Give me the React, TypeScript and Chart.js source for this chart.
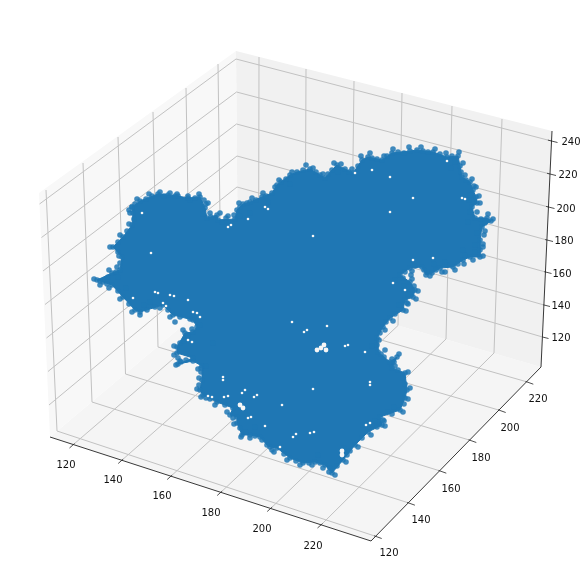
import React, { useEffect, useRef } from "react";
import { Chart, registerables } from "chart.js";
Chart.register(...registerables);

type P = number[];
const xTicks = ["120", "140", "160", "180", "200", "220"];
const yTicks = ["120", "140", "160", "180", "200", "220"];
const zTicks = ["240", "220", "200", "180", "160", "140", "120"];

// Box frame as read on the view plane
const leftPane: P[] = [[39, 193], [236, 51], [238, 279], [50, 437]];
const backPane: P[] = [[236, 51], [552, 131], [541, 367], [238, 279]];
const floorPane: P[] = [[50, 437], [238, 279], [541, 367], [371, 541]];
const axisLine: P[] = [[50, 437], [371, 541], [541, 367], [552, 131]];

const xGridAxis: P[] = [[74, 444], [122.7, 459.5], [171.7, 475.5], [221.7, 491.5], [271.7, 507.5], [322, 524]];
const xGridBack: P[] = [[258.5, 285.5], [305, 299], [351, 312], [398, 325.5], [446, 339], [494, 353]];
const xGridTop: P[] = [[259, 57], [306, 69], [354, 81], [402, 93], [452, 106], [502, 119]];
const yGridAxis: P[] = [[374.7, 536], [407.9, 502.7], [439.3, 470.7], [469.3, 440], [498.7, 410], [526.3, 381.7]];
const yGridBack: P[] = [[57, 431], [92, 402], [125.5, 374], [158, 347], [190, 320], [221, 294]];
const yGridTop: P[] = [[46, 190], [83, 163], [118, 137], [153, 112], [186, 88], [218, 64]];
const zGridLeft: P[] = [[39.5, 204], [41.5, 237.5], [43, 271], [45, 304.5], [46.5, 338], [48, 371.5], [49, 405]];
const zGridBack: P[] = [[236, 59], [236.5, 92], [236.5, 124], [237, 156], [237, 187], [237.5, 218], [238, 248]];
const zGridAxis: P[] = [[551.5, 141], [550, 174], [548.5, 207], [547, 240], [545.5, 272], [544, 305], [542.5, 337]];

const xLabelAt: P[] = [[66, 465], [113, 480], [162, 496], [211, 513], [262, 529], [313, 546]];
const yLabelAt: P[] = [[389, 553], [421, 520], [451, 489], [481, 458], [510, 428], [538, 399]];
const zLabelAt: P[] = [[571, 142], [568, 175], [566, 209], [564, 241], [562, 274], [561, 306], [561, 338]];

// Silhouette of the dense cloud
const outline: P[] = [
  [132, 207], [140, 201], [158, 194], [168, 195], [178, 196], [188, 198], [200, 197], [205, 208], [207, 218], [217, 215],
  [218, 220], [235, 219], [237, 210], [243, 204], [250, 202], [262, 197], [272, 193], [277, 185], [290, 175], [297, 172],
  [310, 169], [325, 178], [332, 170], [337, 165], [353, 173], [362, 160], [368, 157], [382, 160], [392, 153], [410, 151],
  [417, 150], [433, 152], [447, 157], [458, 156], [460, 166], [462, 177], [470, 182], [473, 190], [476, 197], [477, 203],
  [472, 207], [475, 218], [487, 218], [491, 221], [482, 227], [480, 240], [480, 250], [480, 257], [470, 257], [463, 260],
  [453, 267], [440, 268], [432, 273], [426, 275], [422, 267], [410, 268], [400, 275], [410, 282], [415, 290], [413, 297],
  [405, 300], [403, 310], [390, 318], [383, 327], [377, 338], [378, 352], [390, 362], [397, 357], [392, 368], [405, 373],
  [407, 390], [405, 398], [400, 410], [380, 417], [382, 425], [368, 432], [355, 445], [343, 460], [332, 473], [325, 465],
  [315, 462], [303, 463], [290, 458], [277, 448], [270, 447], [267, 445], [260, 437], [250, 435], [242, 435], [237, 423],
  [237, 417], [230, 415], [233, 408], [217, 402], [203, 395], [200, 390], [202, 380], [202, 366], [193, 361], [178, 364],
  [193, 358], [177, 353], [177, 347], [185, 333], [193, 332], [197, 327], [193, 320], [173, 315], [163, 305], [140, 312],
  [135, 310], [123, 297], [112, 285], [103, 282], [97, 280], [112, 273], [120, 270], [122, 257], [113, 247], [123, 237],
  [132, 225], [133, 213],
];

// Individual markers along the rim of the cloud
const rimPoints: P[] = [
  [135, 204], [146, 199], [152, 196], [164, 196], [175, 196], [190, 200], [195, 198], [204, 200], [203, 214], [211, 217],
  [222, 222], [228, 222], [240, 207], [247, 203], [240, 216], [256, 200], [266, 196], [268, 202], [281, 182], [286, 179],
  [303, 170], [316, 172], [320, 175], [328, 174], [345, 169], [349, 172], [358, 166], [372, 158], [377, 159], [387, 156],
  [398, 152], [404, 153], [423, 151], [428, 152], [440, 154], [452, 156], [455, 162], [461, 172], [466, 180], [474, 186],
  [469, 200], [470, 212], [481, 219], [485, 223], [477, 233], [484, 235], [475, 245], [483, 247], [475, 252], [458, 264],
  [447, 265], [445, 272], [436, 270], [415, 266], [405, 272], [403, 278], [414, 286], [408, 294], [399, 305], [395, 314],
  [386, 322], [380, 333], [377, 345], [384, 357], [394, 362], [398, 370], [403, 378], [405, 384], [404, 404], [394, 407],
  [388, 412], [375, 421], [377, 427], [362, 438], [350, 451], [347, 455], [337, 466], [330, 468], [320, 463], [309, 463],
  [296, 461], [284, 454], [272, 450], [255, 436], [246, 432], [240, 428], [225, 405], [210, 399], [206, 398], [199, 385],
  [201, 372], [201, 368], [186, 360], [181, 362], [178, 358], [180, 343], [188, 335], [180, 317], [168, 310], [155, 307],
  [147, 310], [129, 304], [118, 291], [107, 284], [100, 281], [108, 277], [116, 272], [120, 263], [118, 252], [118, 242],
  [127, 231], [134, 219], [118, 277], [126, 288], [150, 302], [144, 305], [175, 322], [206, 366], [213, 343], [184, 341],
  [445, 262], [465, 255], [468, 222], [395, 280], [411, 275], [408, 304], [372, 346], [385, 350], [384, 421], [392, 414],
  [363, 425], [344, 448], [318, 455], [255, 427], [226, 396], [208, 203], [228, 216], [250, 213], [290, 184], [338, 172],
  [451, 168], [470, 195], [463, 250], [434, 264],
  // outer bumps
  [129, 210], [137, 199], [149, 194], [160, 192], [170, 193], [177, 194], [188, 196], [199, 194], [206, 204], [210, 213], [220, 213],
  [226, 218], [234, 215], [239, 203], [252, 198], [263, 193], [275, 187], [279, 180], [292, 172], [306, 165], [313, 168],
  [323, 174], [334, 163], [341, 164], [352, 169], [361, 156], [370, 153], [384, 156], [393, 149], [409, 147], [421, 147],
  [435, 149], [446, 153], [459, 152], [463, 163], [465, 175], [472, 179], [476, 187], [479, 196], [480, 203], [477, 212],
  [488, 214], [493, 219], [485, 231], [483, 244], [483, 256], [473, 260], [464, 264], [455, 270], [442, 272], [430, 276],
  [424, 270], [412, 271], [404, 286], [412, 279], [418, 291], [416, 299], [407, 303], [406, 311], [393, 321], [385, 330],
  [379, 340], [381, 354], [392, 359], [399, 354], [395, 366], [408, 372], [410, 388], [408, 399], [403, 412], [383, 420],
  [385, 426], [371, 435], [358, 447], [346, 462], [335, 475], [329, 472], [323, 468], [312, 465], [300, 465], [287, 460],
  [274, 452], [262, 440], [250, 438], [241, 437], [234, 424], [233, 418], [227, 412], [215, 405], [201, 397], [197, 389],
  [199, 378], [198, 369], [176, 365], [180, 361], [174, 355], [174, 346], [183, 330], [192, 329], [200, 325], [190, 319],
  [170, 317], [160, 308], [140, 315], [132, 312], [120, 299], [109, 288], [100, 285], [94, 279], [109, 270], [117, 267],
  [119, 256], [110, 247], [120, 235], [129, 224], [130, 213],
];

// Openings where the panes show through the cloud
const gapPoints: P[] = [
  [307, 330], [304, 332], [327, 326], [348, 345], [345, 346], [370, 382], [370, 385], [313, 389], [282, 405], [257, 395],
  [254, 397], [242, 393], [245, 390], [228, 396], [224, 397], [212, 397], [208, 396], [223, 377], [223, 380], [248, 418],
  [251, 417], [265, 426], [293, 437], [296, 434], [314, 432], [310, 433], [370, 423], [366, 425], [280, 447], [292, 322],
  [200, 317], [188, 340], [192, 342], [158, 293], [155, 292], [170, 295], [174, 296], [163, 303], [166, 306], [193, 312],
  [197, 313], [188, 300], [142, 213], [151, 253], [228, 227], [231, 225], [248, 219], [265, 207], [268, 209], [133, 298],
  [313, 236], [390, 177], [413, 198], [372, 170], [355, 173], [390, 212], [462, 198], [465, 199], [447, 161], [433, 258],
  [413, 260], [393, 283], [405, 290], [365, 352],
];
const wideGaps: P[] = [[321, 348], [324, 345], [317, 350], [326, 350], [240, 405], [243, 408], [342, 451], [342, 455]];

const BLUE = "#1f77b4";
const MARK = "rgba(31,119,180,0.85)";
const line = (pts: P[], color: string, width: number, order: number) => ({
  type: "scatter" as const,
  data: pts.map(([x, y]) => ({ x, y })),
  showLine: true,
  borderColor: color,
  borderWidth: width,
  pointRadius: 0,
  fill: false,
  order,
});
const pane = (pts: P[], color: string) => ({
  type: "scatter" as const,
  data: [...pts, pts[0]].map(([x, y]) => ({ x, y })),
  showLine: true,
  borderWidth: 0,
  borderColor: color,
  backgroundColor: color,
  pointRadius: 0,
  fill: "shape",
  order: 100,
});
const tick = (a: P, dx: number, dy: number, inner: number) =>
  line([[a[0] - dx * inner, a[1] - dy * inner], [a[0] + dx, a[1] + dy]], "#222222", 0.8, 20);
const dots = (pts: P[], color: string, radius: number, order: number) => ({
  type: "scatter" as const,
  data: pts.map(([x, y]) => ({ x, y })),
  pointRadius: radius,
  pointBorderWidth: 0,
  pointBackgroundColor: color,
  order,
});

const labelPlugin = {
  id: "tickText",
  afterDraw(chart: any) {
    const { ctx, scales } = chart;
    ctx.save();
    ctx.font = "10px 'DejaVu Sans'";
    ctx.fillStyle = "#111111";
    ctx.textAlign = "center";
    ctx.textBaseline = "middle";
    const put = (names: string[], at: P[]) =>
      names.forEach((n, i) =>
        ctx.fillText(n, scales.x.getPixelForValue(at[i][0]), scales.y.getPixelForValue(at[i][1]))
      );
    put(xTicks, xLabelAt);
    put(yTicks, yLabelAt);
    put(zTicks, zLabelAt);
    ctx.restore();
  },
};

export default function App() {
  const ref = useRef<HTMLCanvasElement>(null);
  useEffect(() => {
    const GRID = "#c2c2c2";
    const datasets: any[] = [
      pane(leftPane, "#f8f8f8"),
      pane(backPane, "#f1f1f1"),
      pane(floorPane, "#f5f5f5"),
      ...xTicks.map((_, i) => line([xGridAxis[i], xGridBack[i], xGridTop[i]], GRID, 1, 50)),
      ...yTicks.map((_, i) => line([yGridAxis[i], yGridBack[i], yGridTop[i]], GRID, 1, 50)),
      ...zTicks.map((_, i) => line([zGridLeft[i], zGridBack[i], zGridAxis[i]], GRID, 1, 50)),
      line(axisLine, "#222222", 0.9, 20),
      ...xTicks.map((_, i) => tick(xGridAxis[i], -4.5, 4, 0.1)),
      ...yTicks.map((_, i) => tick(yGridAxis[i], 7, 2.5, 0.1)),
      ...zTicks.map((_, i) => tick(zGridAxis[i], 6, 1.5, 0.6 - i * 0.1)),
      {
        type: "scatter",
        data: [...outline, outline[0]].map(([x, y]) => ({ x, y })),
        showLine: true,
        borderColor: BLUE,
        borderWidth: 1,
        backgroundColor: BLUE,
        pointRadius: 2.8,
        pointBorderWidth: 0,
        pointBackgroundColor: MARK,
        fill: "shape",
        order: 10,
      },
      dots(rimPoints, MARK, 2.8, 6),
      dots(gapPoints, "#f6f6f6", 1.3, 5),
      dots(wideGaps, "#f6f6f6", 2.4, 5),
    ];
    const chart = new Chart(ref.current!, {
      type: "scatter",
      data: { datasets },
      options: {
        animation: false,
        responsive: false,
        maintainAspectRatio: false,
        layout: { padding: 0, autoPadding: false },
        scales: {
          x: { type: "linear", min: 0, max: 587, display: false },
          y: { type: "linear", min: 0, max: 585, reverse: true, display: false },
        },
        plugins: { legend: { display: false }, tooltip: { enabled: false } },
      },
      plugins: [labelPlugin],
    } as any);
    return () => chart.destroy();
  }, []);
  return (
    <div style={{ position: "absolute", left: 0, top: 0, width: 587, height: 585 }}>
      <canvas ref={ref} width={587} height={585} style={{ display: "block" }} />
    </div>
  );
}
